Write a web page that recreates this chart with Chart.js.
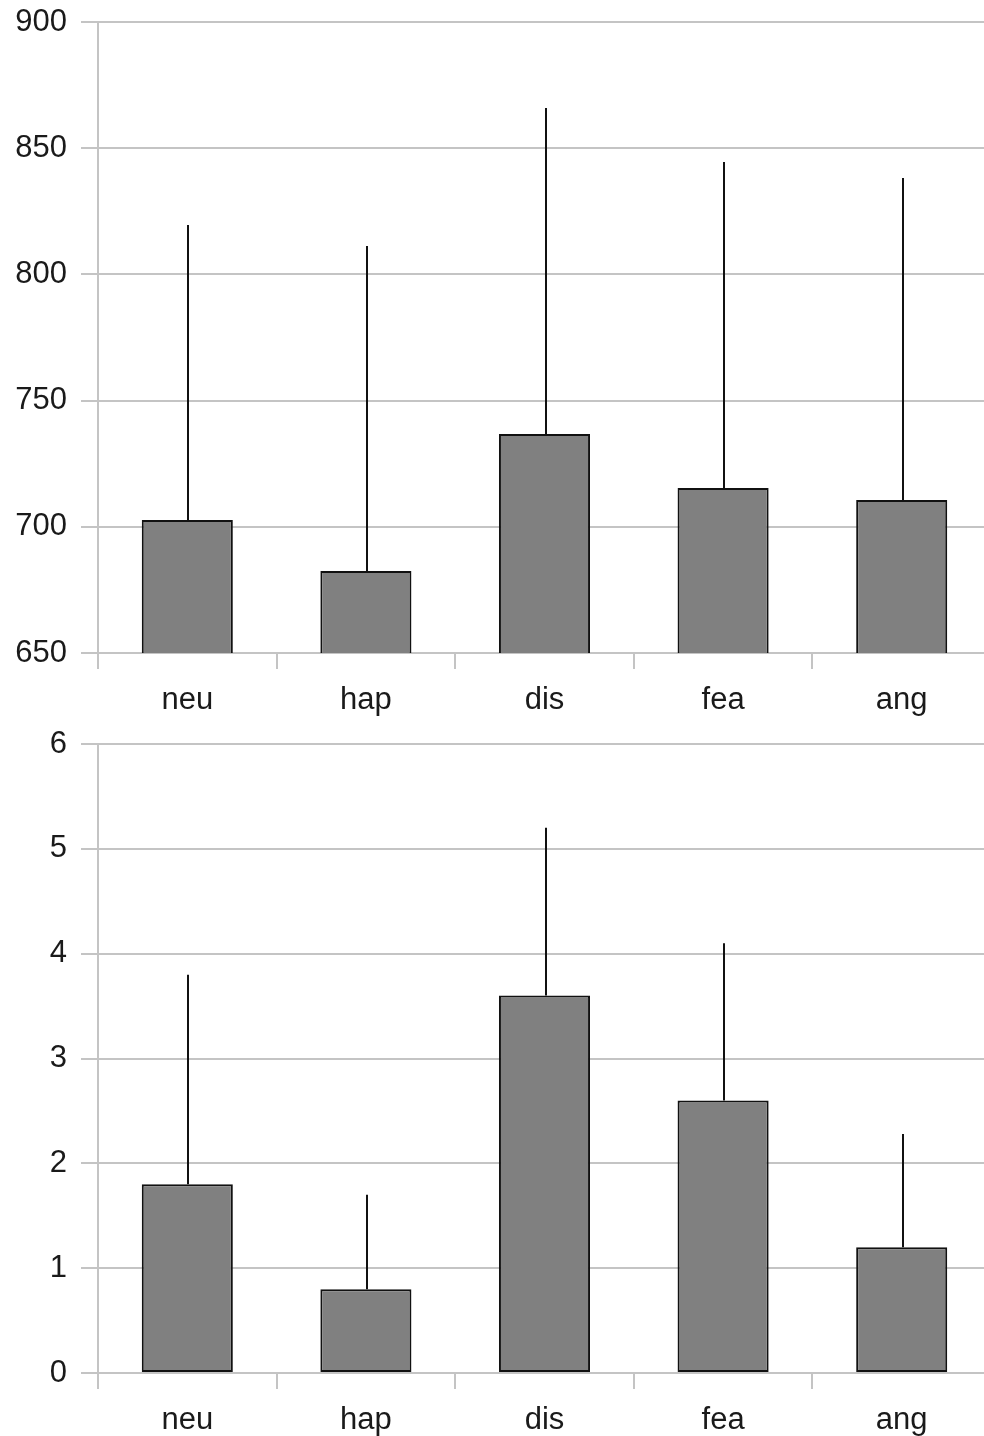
<!DOCTYPE html>
<html>
<head>
<meta charset="utf-8">
<script src="https://cdn.jsdelivr.net/npm/chart.js@4/dist/chart.umd.min.js"></script>
<style>
  html, body { margin: 0; padding: 0; background: #fff; overflow: hidden; }
  .box { position: relative; width: 991px; height: 720px; }
</style>
</head>
<body>
<div class="box"><canvas id="chartTop"></canvas></div>
<div class="box"><canvas id="chartBottom"></canvas></div>
<script>
const categories = ['neu', 'hap', 'dis', 'fea', 'ang'];

// top panel: means and upper error values
const topMeans = [702.7, 682.5, 736.8, 715.4, 710.6];
const topUpper = [819.6, 811.3, 865.9, 844.5, 838.2];
const topTicks = [650, 700, 750, 800, 850, 900];

// bottom panel
const bottomMeans = [1.8, 0.8, 3.6, 2.6, 1.2];
const bottomUpper = [3.8, 1.7, 5.2, 4.1, 2.28];
const bottomTicks = [0, 1, 2, 3, 4, 5, 6];

const gridColor = '#c4c4c4';
const textColor = '#1a1a1a';
const font = { family: '"Liberation Sans", Arial, sans-serif', size: 31 };

// draws a line from the top of each bar up to its upper value
const errorBars = {
    id: 'errorBars',
    afterDatasetsDraw(chart, args, opts) {
        const ctx = chart.ctx;
        const meta = chart.getDatasetMeta(0);
        const y = chart.scales.y;
        ctx.save();
        ctx.strokeStyle = '#111';
        ctx.lineWidth = 2;
        meta.data.forEach((bar, i) => {
            const x = Math.round(bar.x) + 1;
            ctx.beginPath();
            ctx.moveTo(x, y.getPixelForValue(opts.means[i]));
            ctx.lineTo(x, y.getPixelForValue(opts.upper[i]));
            ctx.stroke();
        });
        ctx.restore();
    }
};

function makeChart(id, means, upper, ticks, topPad) {
    return new Chart(document.getElementById(id), {
        type: 'bar',
        data: {
            labels: categories,
            datasets: [{
                data: means,
                backgroundColor: '#808080',
                borderColor: '#111',
                borderWidth: 2,
                borderSkipped: false,
                barPercentage: 0.51,
                categoryPercentage: 1
            }]
        },
        plugins: [errorBars],
        options: {
            responsive: true,
            maintainAspectRatio: false,
            animation: false,
            layout: { padding: { top: topPad, left: 0, right: 0, bottom: 0 } },
            plugins: {
                legend: { display: false },
                tooltip: { enabled: false },
                errorBars: { means: means, upper: upper }
            },
            scales: {
                x: {
                    offset: true,
                    grid: {
                        offset: true,
                        drawOnChartArea: false,
                        drawTicks: true,
                        tickLength: 16,
                        color: gridColor,
                        lineWidth: 2
                    },
                    border: { display: false },
                    ticks: { color: textColor, font: font, padding: 13, maxRotation: 0 },
                    afterFit: s => { s.height = 67; s.paddingLeft = 0; s.paddingRight = 0; }
                },
                y: {
                    min: ticks[0],
                    max: ticks[ticks.length - 1],
                    afterBuildTicks: s => { s.ticks = ticks.map(v => ({ value: v })); },
                    grid: {
                        color: gridColor,
                        lineWidth: 2,
                        drawTicks: true,
                        tickLength: 17
                    },
                    border: { display: true, color: gridColor, width: 2 },
                    ticks: { color: textColor, font: font, padding: 14 },
                    afterFit: s => { s.width = 98; s.paddingTop = 0; s.paddingBottom = 0; }
                }
            }
        }
    });
}

makeChart('chartTop', topMeans, topUpper, topTicks, 22);
makeChart('chartBottom', bottomMeans, bottomUpper, bottomTicks, 24);
</script>
</body>
</html>
